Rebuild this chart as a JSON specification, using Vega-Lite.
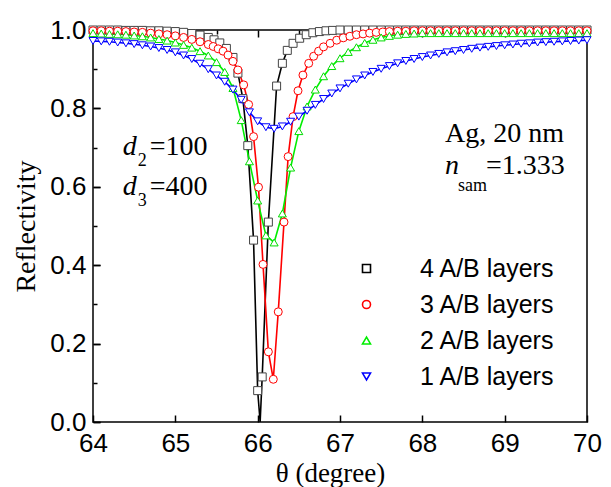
{
  "$schema": "https://vega.github.io/schema/vega-lite/v6.json",
  "width": 494,
  "height": 392,
  "autosize": {"type": "none"},
  "padding": {"left": 93, "top": 30, "right": 24, "bottom": 65},
  "background": "white",
  "config": {
    "view": {"stroke": "black", "strokeWidth": 1.5},
    "axis": {
      "labelFont": "Liberation Sans", "labelFontSize": 26, "labelColor": "black", "labelFlush": false,
      "titleFont": "Liberation Serif", "titleFontSize": 27, "titleFontWeight": "normal", "titleColor": "black",
      "domain": false, "ticks": true, "tickColor": "black", "tickWidth": 1.5,
      "gridColor": "black", "gridWidth": 1.5, "gridOpacity": 1
    }
  },
  "datasets": {
    "curves": [
      {"series":"4 A/B layers","theta":64.0,"R":1.0},{"series":"4 A/B layers","theta":64.1,"R":1.0},{"series":"4 A/B layers","theta":64.2,"R":1.0},{"series":"4 A/B layers","theta":64.3,"R":1.0},{"series":"4 A/B layers","theta":64.4,"R":0.999},{"series":"4 A/B layers","theta":64.5,"R":0.999},{"series":"4 A/B layers","theta":64.6,"R":0.999},{"series":"4 A/B layers","theta":64.7,"R":0.998},{"series":"4 A/B layers","theta":64.8,"R":0.998},{"series":"4 A/B layers","theta":64.9,"R":0.997},{"series":"4 A/B layers","theta":65.0,"R":0.996},{"series":"4 A/B layers","theta":65.1,"R":0.994},{"series":"4 A/B layers","theta":65.2,"R":0.991},{"series":"4 A/B layers","theta":65.3,"R":0.987},{"series":"4 A/B layers","theta":65.4,"R":0.981},{"series":"4 A/B layers","theta":65.47,"R":0.975},{"series":"4 A/B layers","theta":65.54,"R":0.967},{"series":"4 A/B layers","theta":65.62,"R":0.953},{"series":"4 A/B layers","theta":65.7,"R":0.93},{"series":"4 A/B layers","theta":65.76,"R":0.89},{"series":"4 A/B layers","theta":65.82,"R":0.825},{"series":"4 A/B layers","theta":65.88,"R":0.705},{"series":"4 A/B layers","theta":65.95,"R":0.464},{"series":"4 A/B layers","theta":66.0,"R":0.08},{"series":"4 A/B layers","theta":66.03,"R":0.0},{"series":"4 A/B layers","theta":66.055,"R":0.115},{"series":"4 A/B layers","theta":66.13,"R":0.51},{"series":"4 A/B layers","theta":66.23,"R":0.857},{"series":"4 A/B layers","theta":66.3,"R":0.915},{"series":"4 A/B layers","theta":66.36,"R":0.948},{"series":"4 A/B layers","theta":66.43,"R":0.966},{"series":"4 A/B layers","theta":66.51,"R":0.979},{"series":"4 A/B layers","theta":66.59,"R":0.988},{"series":"4 A/B layers","theta":66.67,"R":0.993},{"series":"4 A/B layers","theta":66.75,"R":0.996},{"series":"4 A/B layers","theta":66.83,"R":0.998},{"series":"4 A/B layers","theta":66.91,"R":0.999},{"series":"4 A/B layers","theta":67.0,"R":1.0},{"series":"4 A/B layers","theta":67.1,"R":1.0},{"series":"4 A/B layers","theta":67.2,"R":1.0},{"series":"4 A/B layers","theta":67.3,"R":1.0},{"series":"4 A/B layers","theta":67.4,"R":1.0},{"series":"4 A/B layers","theta":67.5,"R":1.0},{"series":"4 A/B layers","theta":67.6,"R":1.0},{"series":"4 A/B layers","theta":67.7,"R":1.0},{"series":"4 A/B layers","theta":67.8,"R":1.0},{"series":"4 A/B layers","theta":67.9,"R":1.0},{"series":"4 A/B layers","theta":68.0,"R":1.0},{"series":"4 A/B layers","theta":68.1,"R":1.0},{"series":"4 A/B layers","theta":68.2,"R":1.0},{"series":"4 A/B layers","theta":68.3,"R":1.0},{"series":"4 A/B layers","theta":68.4,"R":1.0},{"series":"4 A/B layers","theta":68.5,"R":1.0},{"series":"4 A/B layers","theta":68.6,"R":1.0},{"series":"4 A/B layers","theta":68.7,"R":1.0},{"series":"4 A/B layers","theta":68.8,"R":1.0},{"series":"4 A/B layers","theta":68.9,"R":1.0},{"series":"4 A/B layers","theta":69.0,"R":1.0},{"series":"4 A/B layers","theta":69.1,"R":1.0},{"series":"4 A/B layers","theta":69.2,"R":1.0},{"series":"4 A/B layers","theta":69.3,"R":1.0},{"series":"4 A/B layers","theta":69.4,"R":1.0},{"series":"4 A/B layers","theta":69.5,"R":1.0},{"series":"4 A/B layers","theta":69.6,"R":1.0},{"series":"4 A/B layers","theta":69.7,"R":1.0},{"series":"4 A/B layers","theta":69.8,"R":1.0},{"series":"4 A/B layers","theta":69.9,"R":1.0},{"series":"4 A/B layers","theta":70.0,"R":1.0},
      {"series":"3 A/B layers","theta":64.0,"R":0.998},{"series":"3 A/B layers","theta":64.1,"R":0.998},{"series":"3 A/B layers","theta":64.2,"R":0.997},{"series":"3 A/B layers","theta":64.3,"R":0.997},{"series":"3 A/B layers","theta":64.4,"R":0.996},{"series":"3 A/B layers","theta":64.5,"R":0.995},{"series":"3 A/B layers","theta":64.6,"R":0.994},{"series":"3 A/B layers","theta":64.7,"R":0.992},{"series":"3 A/B layers","theta":64.8,"R":0.99},{"series":"3 A/B layers","theta":64.9,"R":0.988},{"series":"3 A/B layers","theta":65.0,"R":0.985},{"series":"3 A/B layers","theta":65.1,"R":0.981},{"series":"3 A/B layers","theta":65.2,"R":0.976},{"series":"3 A/B layers","theta":65.3,"R":0.97},{"series":"3 A/B layers","theta":65.4,"R":0.963},{"series":"3 A/B layers","theta":65.46,"R":0.958},{"series":"3 A/B layers","theta":65.52,"R":0.952},{"series":"3 A/B layers","theta":65.58,"R":0.946},{"series":"3 A/B layers","theta":65.64,"R":0.936},{"series":"3 A/B layers","theta":65.7,"R":0.92},{"series":"3 A/B layers","theta":65.76,"R":0.898},{"series":"3 A/B layers","theta":65.83,"R":0.86},{"series":"3 A/B layers","theta":65.89,"R":0.81},{"series":"3 A/B layers","theta":65.95,"R":0.728},{"series":"3 A/B layers","theta":66.01,"R":0.599},{"series":"3 A/B layers","theta":66.065,"R":0.402},{"series":"3 A/B layers","theta":66.13,"R":0.179},{"series":"3 A/B layers","theta":66.19,"R":0.109},{"series":"3 A/B layers","theta":66.25,"R":0.281},{"series":"3 A/B layers","theta":66.32,"R":0.51},{"series":"3 A/B layers","theta":66.37,"R":0.677},{"series":"3 A/B layers","theta":66.43,"R":0.779},{"series":"3 A/B layers","theta":66.49,"R":0.845},{"series":"3 A/B layers","theta":66.55,"R":0.885},{"series":"3 A/B layers","theta":66.62,"R":0.915},{"series":"3 A/B layers","theta":66.68,"R":0.933},{"series":"3 A/B layers","theta":66.74,"R":0.946},{"series":"3 A/B layers","theta":66.8,"R":0.957},{"series":"3 A/B layers","theta":66.88,"R":0.966},{"series":"3 A/B layers","theta":66.96,"R":0.974},{"series":"3 A/B layers","theta":67.04,"R":0.98},{"series":"3 A/B layers","theta":67.12,"R":0.984},{"series":"3 A/B layers","theta":67.2,"R":0.988},{"series":"3 A/B layers","theta":67.28,"R":0.99},{"series":"3 A/B layers","theta":67.36,"R":0.992},{"series":"3 A/B layers","theta":67.44,"R":0.994},{"series":"3 A/B layers","theta":67.52,"R":0.995},{"series":"3 A/B layers","theta":67.6,"R":0.996},{"series":"3 A/B layers","theta":67.7,"R":0.997},{"series":"3 A/B layers","theta":67.8,"R":0.997},{"series":"3 A/B layers","theta":67.9,"R":0.998},{"series":"3 A/B layers","theta":68.0,"R":0.998},{"series":"3 A/B layers","theta":68.1,"R":0.998},{"series":"3 A/B layers","theta":68.2,"R":0.998},{"series":"3 A/B layers","theta":68.3,"R":0.998},{"series":"3 A/B layers","theta":68.4,"R":0.998},{"series":"3 A/B layers","theta":68.5,"R":0.998},{"series":"3 A/B layers","theta":68.6,"R":0.998},{"series":"3 A/B layers","theta":68.7,"R":0.998},{"series":"3 A/B layers","theta":68.8,"R":0.998},{"series":"3 A/B layers","theta":68.9,"R":0.998},{"series":"3 A/B layers","theta":69.0,"R":0.998},{"series":"3 A/B layers","theta":69.1,"R":0.998},{"series":"3 A/B layers","theta":69.2,"R":0.998},{"series":"3 A/B layers","theta":69.3,"R":0.998},{"series":"3 A/B layers","theta":69.4,"R":0.998},{"series":"3 A/B layers","theta":69.5,"R":0.998},{"series":"3 A/B layers","theta":69.6,"R":0.998},{"series":"3 A/B layers","theta":69.7,"R":0.998},{"series":"3 A/B layers","theta":69.8,"R":0.998},{"series":"3 A/B layers","theta":69.9,"R":0.998},{"series":"3 A/B layers","theta":70.0,"R":0.998},
      {"series":"2 A/B layers","theta":64.0,"R":0.992},{"series":"2 A/B layers","theta":64.1,"R":0.991},{"series":"2 A/B layers","theta":64.2,"R":0.99},{"series":"2 A/B layers","theta":64.3,"R":0.989},{"series":"2 A/B layers","theta":64.4,"R":0.988},{"series":"2 A/B layers","theta":64.5,"R":0.986},{"series":"2 A/B layers","theta":64.6,"R":0.984},{"series":"2 A/B layers","theta":64.7,"R":0.981},{"series":"2 A/B layers","theta":64.8,"R":0.977},{"series":"2 A/B layers","theta":64.9,"R":0.973},{"series":"2 A/B layers","theta":65.0,"R":0.968},{"series":"2 A/B layers","theta":65.1,"R":0.962},{"series":"2 A/B layers","theta":65.2,"R":0.955},{"series":"2 A/B layers","theta":65.3,"R":0.946},{"series":"2 A/B layers","theta":65.4,"R":0.935},{"series":"2 A/B layers","theta":65.5,"R":0.918},{"series":"2 A/B layers","theta":65.6,"R":0.893},{"series":"2 A/B layers","theta":65.7,"R":0.852},{"series":"2 A/B layers","theta":65.8,"R":0.77},{"series":"2 A/B layers","theta":65.9,"R":0.665},{"series":"2 A/B layers","theta":66.0,"R":0.565},{"series":"2 A/B layers","theta":66.1,"R":0.476},{"series":"2 A/B layers","theta":66.2,"R":0.458},{"series":"2 A/B layers","theta":66.3,"R":0.532},{"series":"2 A/B layers","theta":66.4,"R":0.649},{"series":"2 A/B layers","theta":66.5,"R":0.742},{"series":"2 A/B layers","theta":66.6,"R":0.805},{"series":"2 A/B layers","theta":66.7,"R":0.848},{"series":"2 A/B layers","theta":66.8,"R":0.882},{"series":"2 A/B layers","theta":66.9,"R":0.908},{"series":"2 A/B layers","theta":67.0,"R":0.928},{"series":"2 A/B layers","theta":67.1,"R":0.944},{"series":"2 A/B layers","theta":67.2,"R":0.956},{"series":"2 A/B layers","theta":67.3,"R":0.967},{"series":"2 A/B layers","theta":67.4,"R":0.975},{"series":"2 A/B layers","theta":67.5,"R":0.981},{"series":"2 A/B layers","theta":67.6,"R":0.985},{"series":"2 A/B layers","theta":67.7,"R":0.988},{"series":"2 A/B layers","theta":67.8,"R":0.99},{"series":"2 A/B layers","theta":67.9,"R":0.991},{"series":"2 A/B layers","theta":68.0,"R":0.992},{"series":"2 A/B layers","theta":68.1,"R":0.992},{"series":"2 A/B layers","theta":68.2,"R":0.992},{"series":"2 A/B layers","theta":68.3,"R":0.992},{"series":"2 A/B layers","theta":68.4,"R":0.992},{"series":"2 A/B layers","theta":68.5,"R":0.992},{"series":"2 A/B layers","theta":68.6,"R":0.992},{"series":"2 A/B layers","theta":68.7,"R":0.992},{"series":"2 A/B layers","theta":68.8,"R":0.992},{"series":"2 A/B layers","theta":68.9,"R":0.992},{"series":"2 A/B layers","theta":69.0,"R":0.992},{"series":"2 A/B layers","theta":69.1,"R":0.992},{"series":"2 A/B layers","theta":69.2,"R":0.992},{"series":"2 A/B layers","theta":69.3,"R":0.992},{"series":"2 A/B layers","theta":69.4,"R":0.992},{"series":"2 A/B layers","theta":69.5,"R":0.992},{"series":"2 A/B layers","theta":69.6,"R":0.992},{"series":"2 A/B layers","theta":69.7,"R":0.992},{"series":"2 A/B layers","theta":69.8,"R":0.992},{"series":"2 A/B layers","theta":69.9,"R":0.992},{"series":"2 A/B layers","theta":70.0,"R":0.992},
      {"series":"1 A/B layers","theta":64.0,"R":0.972},{"series":"1 A/B layers","theta":64.1,"R":0.971},{"series":"1 A/B layers","theta":64.2,"R":0.97},{"series":"1 A/B layers","theta":64.3,"R":0.968},{"series":"1 A/B layers","theta":64.4,"R":0.966},{"series":"1 A/B layers","theta":64.5,"R":0.964},{"series":"1 A/B layers","theta":64.6,"R":0.961},{"series":"1 A/B layers","theta":64.7,"R":0.958},{"series":"1 A/B layers","theta":64.8,"R":0.954},{"series":"1 A/B layers","theta":64.9,"R":0.949},{"series":"1 A/B layers","theta":65.0,"R":0.943},{"series":"1 A/B layers","theta":65.1,"R":0.935},{"series":"1 A/B layers","theta":65.2,"R":0.926},{"series":"1 A/B layers","theta":65.3,"R":0.914},{"series":"1 A/B layers","theta":65.4,"R":0.9},{"series":"1 A/B layers","theta":65.5,"R":0.884},{"series":"1 A/B layers","theta":65.6,"R":0.868},{"series":"1 A/B layers","theta":65.7,"R":0.848},{"series":"1 A/B layers","theta":65.8,"R":0.822},{"series":"1 A/B layers","theta":65.9,"R":0.79},{"series":"1 A/B layers","theta":66.0,"R":0.767},{"series":"1 A/B layers","theta":66.1,"R":0.752},{"series":"1 A/B layers","theta":66.2,"R":0.748},{"series":"1 A/B layers","theta":66.3,"R":0.754},{"series":"1 A/B layers","theta":66.4,"R":0.766},{"series":"1 A/B layers","theta":66.5,"R":0.779},{"series":"1 A/B layers","theta":66.6,"R":0.794},{"series":"1 A/B layers","theta":66.7,"R":0.809},{"series":"1 A/B layers","theta":66.8,"R":0.824},{"series":"1 A/B layers","theta":66.9,"R":0.838},{"series":"1 A/B layers","theta":67.0,"R":0.851},{"series":"1 A/B layers","theta":67.1,"R":0.863},{"series":"1 A/B layers","theta":67.2,"R":0.874},{"series":"1 A/B layers","theta":67.3,"R":0.884},{"series":"1 A/B layers","theta":67.4,"R":0.893},{"series":"1 A/B layers","theta":67.5,"R":0.901},{"series":"1 A/B layers","theta":67.6,"R":0.908},{"series":"1 A/B layers","theta":67.7,"R":0.915},{"series":"1 A/B layers","theta":67.8,"R":0.921},{"series":"1 A/B layers","theta":67.9,"R":0.926},{"series":"1 A/B layers","theta":68.0,"R":0.931},{"series":"1 A/B layers","theta":68.1,"R":0.935},{"series":"1 A/B layers","theta":68.2,"R":0.939},{"series":"1 A/B layers","theta":68.3,"R":0.943},{"series":"1 A/B layers","theta":68.4,"R":0.946},{"series":"1 A/B layers","theta":68.5,"R":0.949},{"series":"1 A/B layers","theta":68.6,"R":0.952},{"series":"1 A/B layers","theta":68.7,"R":0.955},{"series":"1 A/B layers","theta":68.8,"R":0.957},{"series":"1 A/B layers","theta":68.9,"R":0.959},{"series":"1 A/B layers","theta":69.0,"R":0.961},{"series":"1 A/B layers","theta":69.1,"R":0.963},{"series":"1 A/B layers","theta":69.2,"R":0.965},{"series":"1 A/B layers","theta":69.3,"R":0.966},{"series":"1 A/B layers","theta":69.4,"R":0.968},{"series":"1 A/B layers","theta":69.5,"R":0.969},{"series":"1 A/B layers","theta":69.6,"R":0.97},{"series":"1 A/B layers","theta":69.7,"R":0.971},{"series":"1 A/B layers","theta":69.8,"R":0.972},{"series":"1 A/B layers","theta":69.9,"R":0.973},{"series":"1 A/B layers","theta":70.0,"R":0.974}
    ]
  },
  "resolve": {"axis": {"x": "independent", "y": "independent"}},
  "layer": [
    {
      "data": {"name": "curves"},
      "mark": {"type": "line", "strokeWidth": 1.6},
      "encoding": {
        "x": {"field": "theta", "type": "quantitative", "scale": {"domain": [64, 70], "nice": false},
              "axis": {"orient": "bottom", "values": [64, 65, 66, 67, 68, 69, 70], "format": "d", "offset": -7, "tickSize": 7, "labelPadding": 8,
                       "grid": true, "gridDash": [7, 2000],
                       "title": "θ (degree)", "titleX": 237, "titleY": 66, "titleBaseline": "alphabetic", "titleAlign": "center"}},
        "y": {"field": "R", "type": "quantitative", "scale": {"domain": [0, 1], "nice": false},
              "axis": {"orient": "left", "values": [0, 0.2, 0.4, 0.6, 0.8, 1.0], "format": ".1f", "offset": -7, "tickSize": 7, "labelPadding": 7,
                       "grid": true, "gridDash": [7, 2000],
                       "title": "Reflectivity", "titleX": -66, "titleY": 196, "titleAngle": 270, "titleBaseline": "alphabetic", "titleAlign": "center", "titleFontSize": 28}},
        "color": {"field": "series", "type": "nominal",
                  "scale": {"domain": ["4 A/B layers", "3 A/B layers", "2 A/B layers", "1 A/B layers"], "range": ["#000000", "#ff0000", "#00ee00", "#0000ff"]},
                  "legend": {"orient": "bottom-right", "title": null, "offset": 32,
                             "labelFont": "Liberation Sans", "labelFontSize": 25, "labelColor": "black", "labelOffset": 41,
                             "rowPadding": 10, "symbolType": "M-8,0H8", "symbolSize": 64, "symbolStrokeWidth": 1.6}}
      }
    },
    {
      "data": {"name": "curves"},
      "transform": [{"filter": "datum.theta !== 66.03"}],
      "mark": {"type": "point", "filled": true, "fill": "white", "strokeWidth": 1, "size": 64, "opacity": 1},
      "encoding": {
        "x": {"field": "theta", "type": "quantitative",
              "axis": {"orient": "bottom", "values": [64.5, 65.5, 66.5, 67.5, 68.5, 69.5], "labels": false, "ticks": false, "domain": false, "title": null,
                       "grid": true, "gridDash": [4, 2000]}},
        "y": {"field": "R", "type": "quantitative",
              "axis": {"orient": "left", "values": [0.1, 0.3, 0.5, 0.7, 0.9], "labels": false, "ticks": false, "domain": false, "title": null,
                       "grid": true, "gridDash": [4, 2000]}},
        "stroke": {"field": "series", "type": "nominal",
                   "scale": {"domain": ["4 A/B layers", "3 A/B layers", "2 A/B layers", "1 A/B layers"], "range": ["#444444", "#ff0000", "#00dd00", "#0000ff"]},
                   "legend": null},
        "shape": {"field": "series", "type": "nominal",
                  "scale": {"domain": ["4 A/B layers", "3 A/B layers", "2 A/B layers", "1 A/B layers"], "range": ["square", "circle", "triangle-up", "triangle-down"]},
                  "legend": null}
      }
    },
    {
      "data": {"values": [{}]},
      "mark": {"type": "text", "text": "Ag, 20 nm", "font": "Liberation Serif", "fontSize": 28, "align": "left", "baseline": "alphabetic", "color": "black"},
      "encoding": {"x": {"datum": 68.276, "type": "quantitative", "axis": null}, "y": {"datum": 0.715, "type": "quantitative", "axis": null}}
    },
    {
      "data": {"values": [{}]},
      "mark": {"type": "text", "text": "n", "font": "Liberation Serif", "fontSize": 28, "fontStyle": "italic", "align": "left", "baseline": "alphabetic", "color": "black"},
      "encoding": {"x": {"datum": 68.276, "type": "quantitative", "axis": null}, "y": {"datum": 0.632, "type": "quantitative", "axis": null}}
    },
    {
      "data": {"values": [{}]},
      "mark": {"type": "text", "text": "sam", "font": "Liberation Serif", "fontSize": 18, "align": "left", "baseline": "alphabetic", "color": "black"},
      "encoding": {"x": {"datum": 68.433, "type": "quantitative", "axis": null}, "y": {"datum": 0.59, "type": "quantitative", "axis": null}}
    },
    {
      "data": {"values": [{}]},
      "mark": {"type": "text", "text": "=1.333", "font": "Liberation Serif", "fontSize": 28, "align": "left", "baseline": "alphabetic", "color": "black"},
      "encoding": {"x": {"datum": 68.773, "type": "quantitative", "axis": null}, "y": {"datum": 0.632, "type": "quantitative", "axis": null}}
    },
    {
      "data": {"values": [{}]},
      "mark": {"type": "text", "text": "d", "font": "Liberation Serif", "fontSize": 28, "fontStyle": "italic", "align": "left", "baseline": "alphabetic", "color": "black"},
      "encoding": {"x": {"datum": 64.36, "type": "quantitative", "axis": null}, "y": {"datum": 0.681, "type": "quantitative", "axis": null}}
    },
    {
      "data": {"values": [{}]},
      "mark": {"type": "text", "text": "2", "font": "Liberation Serif", "fontSize": 18, "align": "left", "baseline": "alphabetic", "color": "black"},
      "encoding": {"x": {"datum": 64.545, "type": "quantitative", "axis": null}, "y": {"datum": 0.654, "type": "quantitative", "axis": null}}
    },
    {
      "data": {"values": [{}]},
      "mark": {"type": "text", "text": "=100", "font": "Liberation Serif", "fontSize": 28, "align": "left", "baseline": "alphabetic", "color": "black"},
      "encoding": {"x": {"datum": 64.69, "type": "quantitative", "axis": null}, "y": {"datum": 0.681, "type": "quantitative", "axis": null}}
    },
    {
      "data": {"values": [{}]},
      "mark": {"type": "text", "text": "d", "font": "Liberation Serif", "fontSize": 28, "fontStyle": "italic", "align": "left", "baseline": "alphabetic", "color": "black"},
      "encoding": {"x": {"datum": 64.36, "type": "quantitative", "axis": null}, "y": {"datum": 0.579, "type": "quantitative", "axis": null}}
    },
    {
      "data": {"values": [{}]},
      "mark": {"type": "text", "text": "3", "font": "Liberation Serif", "fontSize": 18, "align": "left", "baseline": "alphabetic", "color": "black"},
      "encoding": {"x": {"datum": 64.545, "type": "quantitative", "axis": null}, "y": {"datum": 0.552, "type": "quantitative", "axis": null}}
    },
    {
      "data": {"values": [{}]},
      "mark": {"type": "text", "text": "=400", "font": "Liberation Serif", "fontSize": 28, "align": "left", "baseline": "alphabetic", "color": "black"},
      "encoding": {"x": {"datum": 64.69, "type": "quantitative", "axis": null}, "y": {"datum": 0.579, "type": "quantitative", "axis": null}}
    }
  ]
}
